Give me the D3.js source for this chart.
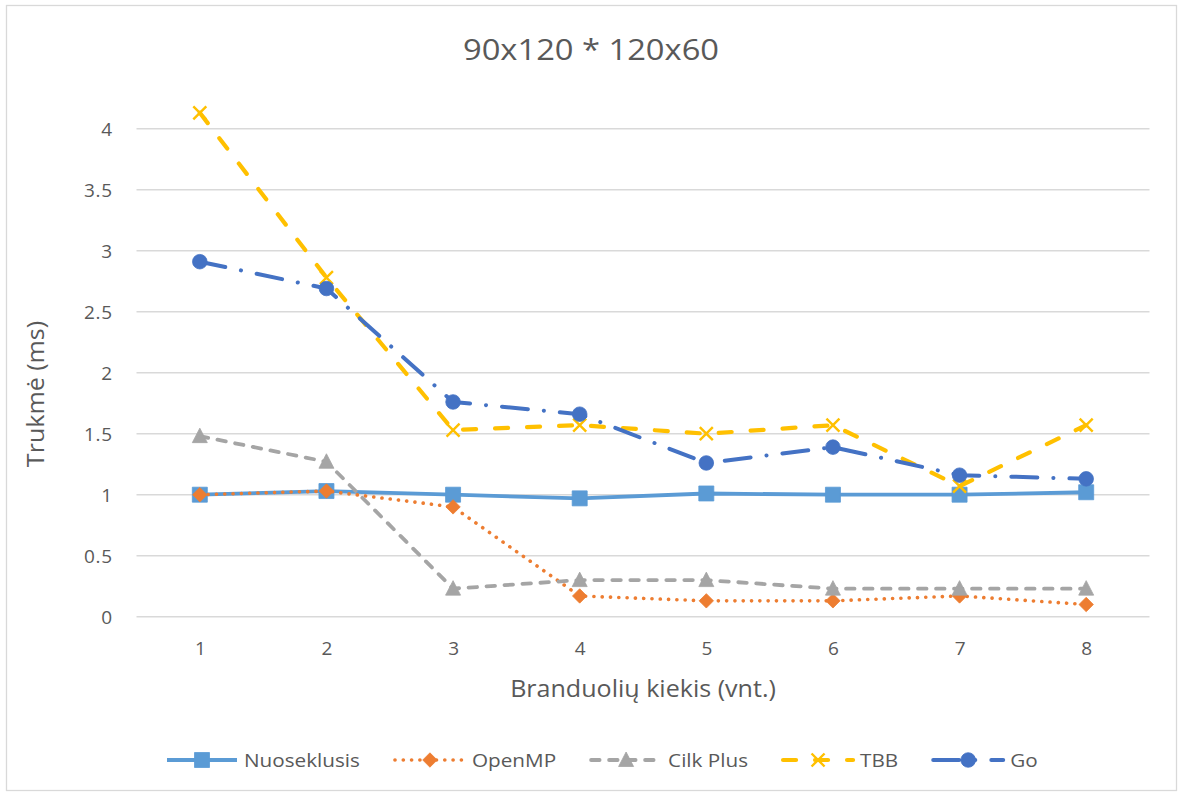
<!DOCTYPE html>
<html>
<head>
<meta charset="utf-8">
<script src="https://cdn.jsdelivr.net/npm/d3@7"></script>
<style>
  html, body { margin: 0; padding: 0; background: #fff; }
  svg { display: block; font-family: "Open Sans", "Noto Sans", sans-serif; }
</style>
</head>
<body>
<svg id="chart" width="1179" height="794"></svg>
<script>
// Core counts on the x axis
const categories = ["1", "2", "3", "4", "5", "6", "7", "8"];

// Duration (ms) for each implementation
const nuoseklusis = [1.00, 1.03, 1.00, 0.97, 1.01, 1.00, 1.00, 1.02];
const openmp      = [1.00, 1.03, 0.90, 0.17, 0.13, 0.13, 0.17, 0.10];
const cilkPlus    = [1.48, 1.27, 0.23, 0.30, 0.30, 0.23, 0.23, 0.23];
const tbb         = [4.13, 2.78, 1.53, 1.57, 1.50, 1.57, 1.07, 1.57];
const go          = [2.91, 2.69, 1.76, 1.66, 1.26, 1.39, 1.16, 1.13];

const seriesNames = ["Nuoseklusis", "OpenMP", "Cilk Plus", "TBB", "Go"];
const yTicks = [0, 0.5, 1, 1.5, 2, 2.5, 3, 3.5, 4];

const titleText = "90x120 * 120x60";
const xTitle = "Branduolių kiekis (vnt.)";
const yTitle = "Trukmė (ms)";

// Visual style per series
const styles = {
  "Nuoseklusis": { color: "#5B9BD5", dash: null, marker: "square", width: 3.8 },
  "OpenMP":      { color: "#ED7D31", dash: "0.1 8.2", marker: "diamond", width: 3.6 },
  "Cilk Plus":   { color: "#A5A5A5", dash: "8.5 9.5", marker: "triangle", width: 3.8 },
  "TBB":         { color: "#FFC000", dash: "13 19", marker: "x", width: 4.2 },
  "Go":          { color: "#4472C4", dash: "26 16 0.1 16", marker: "circle", width: 4 }
};

const seriesValues = [nuoseklusis, openmp, cilkPlus, tbb, go];
const series = seriesNames.map((name, i) => ({
  name,
  points: categories.map((c, j) => ({ cat: c, value: seriesValues[i][j] }))
}));

const svg = d3.select("#chart");
const textColor = "#595959";
const gridColor = "#D9D9D9";
const stretch = 1.09;   // horizontal widening of the label face

// Outer chart border
svg.append("rect")
  .attr("x", 6.5).attr("y", 5.5)
  .attr("width", 1170).attr("height", 785)
  .attr("fill", "#fff").attr("stroke", gridColor).attr("stroke-width", 1.3);

const plot = { left: 136.5, right: 1149.5, top: 128.7, bottom: 616.7 };

const x = d3.scalePoint().domain(categories).range([plot.left, plot.right]).padding(0.5);
const y = d3.scaleLinear().domain([0, 4]).range([plot.bottom, plot.top]);

// Horizontal gridlines
svg.append("g").selectAll("line").data(yTicks).join("line")
  .attr("x1", plot.left).attr("x2", plot.right)
  .attr("y1", d => y(d)).attr("y2", d => y(d))
  .attr("stroke", gridColor).attr("stroke-width", 1.4);

// Y axis tick labels
const yAxis = d3.axisLeft(y).tickValues(yTicks).tickSize(0).tickPadding(0)
  .tickFormat(d3.format("~g"));
const gy = svg.append("g").attr("transform", `translate(113,0)`).call(yAxis);
gy.select(".domain").remove();
gy.selectAll("text")
  .attr("fill", textColor).attr("font-size", 19).attr("letter-spacing", 0.8)
  .attr("font-family", "'Open Sans', sans-serif")
  .attr("dy", "0.36em");

// X axis tick labels
const xAxis = d3.axisBottom(x).tickSize(0).tickPadding(0);
const gx = svg.append("g").attr("transform", `translate(0,${plot.bottom})`).call(xAxis);
gx.select(".domain").remove();
gx.selectAll("text")
  .attr("fill", textColor).attr("font-size", 19)
  .attr("font-family", "'Open Sans', sans-serif")
  .attr("dy", 0).attr("y", 38.5);

// Text widened horizontally around its anchor point
function wideText(parent, tx, ty, rotate, size, str, anchor) {
  const g = parent.append("g")
    .attr("transform", `translate(${tx},${ty})${rotate ? ` rotate(${rotate})` : ""} scale(${stretch},1)`);
  return g.append("text")
    .attr("text-anchor", anchor || "middle")
    .attr("fill", textColor).attr("font-size", size)
    .text(str);
}

// Chart title and axis titles
wideText(svg, 591, 60, 0, 30, titleText);
wideText(svg, 643, 697, 0, 23, xTitle);
wideText(svg, 44, 394, -90, 23, yTitle);

// Marker shapes
function markerPath(type) {
  switch (type) {
    case "square": return "M-7.5,-7.5H7.5V7.5H-7.5Z";
    case "diamond": return "M0,-7.2L7.2,0L0,7.2L-7.2,0Z";
    case "triangle": return "M0,-8L7.5,6.5H-7.5Z";
    case "x": return "M-6.5,-6.5L6.5,6.5M6.5,-6.5L-6.5,6.5";
    case "circle": return "M7.3,0A7.3,7.3 0 1,1 -7.3,0A7.3,7.3 0 1,1 7.3,0Z";
  }
}

function drawMarker(g, type, color) {
  const p = g.append("path").attr("d", markerPath(type));
  if (type === "x") {
    p.attr("fill", "none").attr("stroke", color).attr("stroke-width", 2.4);
  } else {
    p.attr("fill", color).attr("stroke", color).attr("stroke-width", 0.8);
  }
}

const line = d3.line().x(d => x(d.cat)).y(d => y(d.value));

const gSeries = svg.append("g");
series.forEach(s => {
  const st = styles[s.name];
  const g = gSeries.append("g");
  g.append("path")
    .attr("d", line(s.points))
    .attr("fill", "none")
    .attr("stroke", st.color)
    .attr("stroke-width", st.width)
    .attr("stroke-linejoin", "round")
    .attr("stroke-linecap", st.dash ? "round" : "butt")
    .attr("stroke-dasharray", st.dash);
  s.points.forEach(p => {
    const m = g.append("g").attr("transform", `translate(${x(p.cat)},${y(p.value)})`);
    drawMarker(m, st.marker, st.color);
  });
});

// Legend
const legend = svg.append("g").attr("transform", "translate(0,760)");
const sampleLen = 70, textGap = 7, itemGap = 35;
let cursor = 167;
seriesNames.forEach(name => {
  const st = styles[name];
  const item = legend.append("g").attr("transform", `translate(${cursor},0)`);
  item.append("line")
    .attr("x1", 0).attr("x2", sampleLen).attr("y1", 0).attr("y2", 0)
    .attr("stroke", st.color).attr("stroke-width", st.width)
    .attr("stroke-linecap", st.dash ? "round" : "butt")
    .attr("stroke-dasharray", st.dash);
  const m = item.append("g").attr("transform", `translate(${sampleLen / 2},0)`);
  drawMarker(m, st.marker, st.color);
  const t = wideText(item, sampleLen + textGap, 0, 0, 19, name, "start").attr("dy", "0.36em");
  cursor += sampleLen + textGap + t.node().getComputedTextLength() * stretch + itemGap;
});
</script>
</body>
</html>
